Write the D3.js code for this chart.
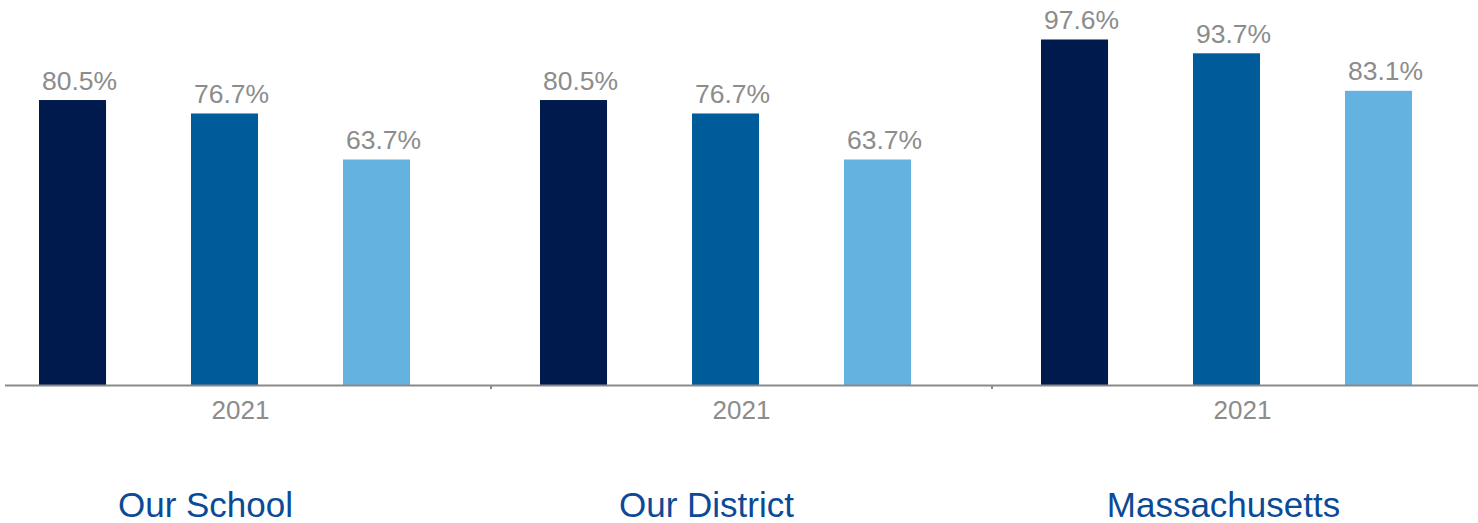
<!DOCTYPE html>
<html>
<head>
<meta charset="utf-8">
<script src="https://cdn.jsdelivr.net/npm/d3@7"></script>
<style>
  body { margin: 0; background: #fff; }
  svg text { font-family: "Liberation Sans", Arial, sans-serif; }
  .value-label { fill: #8c8c8c; font-size: 26.5px; }
  .year-label { fill: #8c8c8c; font-size: 26px; }
  .group-label { fill: #0b4a96; font-size: 35px; }
</style>
</head>
<body>
<div id="chart"></div>
<script>
// groups shown along the bottom
const groups = ['Our School', 'Our District', 'Massachusetts'];
const yearLabel = '2021';

// three series per group (dark, mid, light)
const seriesKeys = ['s1', 's2', 's3'];
const series1 = [80.5, 80.5, 97.6];
const series2 = [76.7, 76.7, 93.7];
const series3 = [63.7, 63.7, 83.1];

const colors = ['#001a4e', '#005b9a', '#64b2df'];

const width = 1478, height = 523;
const baseline = 385;
// group titles are separate text boxes, not quite centred on their panels
const titleShift = [-35, -35, -19];

const data = groups.map((g, i) => ({
  group: g,
  values: [series1[i], series2[i], series3[i]].map((v, j) => ({key: seriesKeys[j], value: v}))
}));

const svg = d3.select('#chart').append('svg')
    .attr('width', width)
    .attr('height', height);

// each panel is 501px wide; first one starts slightly off-canvas
const x0 = d3.scaleBand()
    .domain(groups)
    .range([-10, 1493])
    .padding(0);

const x1 = d3.scaleBand()
    .domain(seriesKeys)
    .range([49, 420])
    .paddingInner(0.559)
    .paddingOuter(0);

const y = d3.scaleLinear()
    .domain([0, 100])
    .range([baseline, 31]);

const panels = svg.selectAll('.panel')
    .data(data)
  .join('g')
    .attr('class', 'panel')
    .attr('transform', d => `translate(${x0(d.group)},0)`);

panels.selectAll('rect')
    .data(d => d.values)
  .join('rect')
    .attr('x', d => x1(d.key))
    .attr('y', d => y(d.value))
    .attr('width', x1.bandwidth())
    .attr('height', d => y(0) - y(d.value))
    .attr('fill', (d, i) => colors[i]);

panels.selectAll('.value-label')
    .data(d => d.values)
  .join('text')
    .attr('class', 'value-label')
    .attr('x', d => x1(d.key) + 3)
    .attr('y', d => y(d.value) - 10.5)
    .text(d => d.value.toFixed(1) + '%');

// x axis: line, boundary ticks, year labels
const axis = svg.append('g').attr('transform', `translate(0,${baseline})`);

axis.append('line')
    .attr('x1', 5)
    .attr('x2', width)
    .attr('y1', 0.5)
    .attr('y2', 0.5)
    .attr('stroke', '#8a8a8a')
    .attr('stroke-width', 2);

axis.selectAll('.tick-mark')
    .data(groups.slice(1))
  .join('line')
    .attr('class', 'tick-mark')
    .attr('x1', d => x0(d))
    .attr('x2', d => x0(d))
    .attr('y1', 0)
    .attr('y2', 4)
    .attr('stroke', '#8a8a8a')
    .attr('stroke-width', 2);

axis.selectAll('.year-label')
    .data(groups)
  .join('text')
    .attr('class', 'year-label')
    .attr('text-anchor', 'middle')
    .attr('x', d => x0(d) + x0.bandwidth() / 2)
    .attr('y', 34)
    .text(yearLabel);

svg.selectAll('.group-label')
    .data(groups)
  .join('text')
    .attr('class', 'group-label')
    .attr('text-anchor', 'middle')
    .attr('x', (d, i) => x0(d) + x0.bandwidth() / 2 + titleShift[i])
    .attr('y', 517)
    .text(d => d);
</script>
</body>
</html>
